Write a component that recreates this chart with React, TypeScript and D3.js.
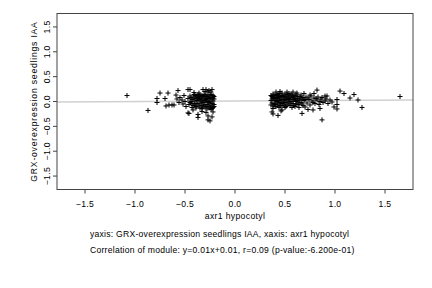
import * as d3 from "d3";

// axr1 hypocotyl (x) vs GRX-overexpression seedlings IAA (y)
const pointsLeft: [number, number][] = [
  [-1.08, 0.12], [-0.87, -0.18], [-0.78, 0.06], [-0.78, -0.02], [-0.75, 0.17],
  [-0.7, 0.06], [-0.67, 0.17], [-0.69, -0.09], [-0.66, -0.07], [-0.63, -0.07],
  [-0.61, -0.07], [-0.59, 0.13], [-0.57, 0.22], [-0.58, 0.05], [-0.56, -0.02],
  [-0.55, 0.08], [-0.53, 0.03], [-0.52, -0.05], [-0.51, 0.12], [-0.5, 0.0],
  [-0.49, -0.1], [-0.47, 0.24], [-0.45, 0.24], [-0.32, 0.24], [-0.29, 0.24],
  [-0.26, 0.22], [-0.23, 0.24], [-0.3, 0.2], [-0.27, 0.19], [-0.24, 0.19],
  [-0.41, 0.18], [-0.36, 0.17], [-0.46, -0.24], [-0.47, -0.23], [-0.37, -0.32],
  [-0.37, -0.26], [-0.27, -0.29], [-0.27, -0.37], [-0.25, -0.39], [-0.23, -0.31],
  [-0.22, -0.21], [-0.42, -0.17], [-0.33, -0.2], [-0.29, -0.22], [-0.24, -0.16],
  [-0.47, 0.06], [-0.46, -0.06], [-0.45, 0.11], [-0.44, 0.0], [-0.43, -0.12],
  [-0.42, 0.05], [-0.41, -0.04], [-0.4, 0.12], [-0.39, -0.1], [-0.38, 0.02],
  [-0.37, 0.08], [-0.36, -0.05], [-0.35, -0.13], [-0.35, 0.13], [-0.34, 0.01],
  [-0.33, -0.08], [-0.32, 0.07], [-0.31, -0.02], [-0.31, 0.14], [-0.3, -0.11],
  [-0.29, 0.04], [-0.28, -0.06], [-0.28, 0.1], [-0.27, 0.0], [-0.26, -0.13],
  [-0.26, 0.06], [-0.25, -0.03], [-0.25, 0.13], [-0.24, 0.03], [-0.24, -0.09],
  [-0.23, 0.08], [-0.23, -0.04], [-0.22, 0.12], [-0.22, 0.01], [-0.22, -0.12],
  [-0.21, -0.06], [-0.21, 0.05], [-0.34, 0.1], [-0.3, 0.11], [-0.39, 0.06],
  [-0.33, -0.14], [-0.28, -0.15], [-0.4, -0.07], [-0.44, 0.08], [-0.36, 0.04],
  [-0.45, -0.02], [-0.43, 0.04], [-0.42, -0.08], [-0.41, 0.09], [-0.4, 0.01],
  [-0.39, -0.13], [-0.38, 0.11], [-0.38, -0.04], [-0.37, 0.14], [-0.36, -0.09],
  [-0.35, 0.06], [-0.34, -0.03], [-0.33, 0.12], [-0.33, 0.03], [-0.32, -0.11],
  [-0.32, -0.01], [-0.31, 0.09], [-0.3, -0.06], [-0.3, 0.02], [-0.29, 0.13],
  [-0.29, -0.1], [-0.28, 0.06], [-0.27, -0.09], [-0.27, 0.11], [-0.26, -0.02],
  [-0.25, 0.08], [-0.25, -0.11], [-0.24, 0.14], [-0.23, -0.14], [-0.22, 0.07],
  [-0.21, 0.1], [-0.21, -0.1], [-0.43, -0.04], [-0.41, 0.14], [-0.36, 0.1],
];

const pointsRight: [number, number][] = [
  [0.82, 0.23], [0.79, 0.16], [0.75, 0.13], [0.69, 0.16], [0.9, 0.11],
  [0.92, 0.11], [1.05, 0.21], [1.09, 0.16], [1.19, 0.14], [1.15, 0.07],
  [1.23, 0.03], [1.27, -0.12], [0.87, -0.37], [0.67, -0.24], [0.78, -0.17],
  [0.85, -0.14], [0.73, -0.16], [0.99, -0.11], [1.02, -0.15], [1.02, -0.06],
  [1.02, 0.04], [0.38, -0.14], [0.37, -0.21], [0.38, -0.25], [0.43, -0.28],
  [0.46, -0.19], [0.5, -0.12], [0.47, -0.17], [1.65, 0.1],
  [0.41, 0.19], [0.45, 0.2], [0.52, 0.19], [0.58, 0.19], [0.62, 0.17],
  [0.36, 0.02], [0.36, -0.07], [0.37, 0.1], [0.38, 0.15], [0.39, -0.04],
  [0.39, 0.06], [0.4, -0.1], [0.41, 0.12], [0.42, 0.0], [0.43, -0.07],
  [0.43, 0.08], [0.44, 0.16], [0.45, -0.02], [0.46, 0.04], [0.46, -0.09],
  [0.47, 0.12], [0.48, 0.01], [0.49, -0.05], [0.49, 0.09], [0.5, 0.15],
  [0.51, -0.1], [0.52, 0.03], [0.53, -0.03], [0.53, 0.11], [0.54, 0.06],
  [0.55, -0.08], [0.56, 0.0], [0.56, 0.15], [0.57, 0.08], [0.58, -0.04],
  [0.59, 0.04], [0.6, -0.1], [0.6, 0.12], [0.61, 0.0], [0.62, 0.07],
  [0.63, -0.06], [0.64, 0.03], [0.65, 0.1], [0.66, -0.02], [0.67, 0.05],
  [0.68, -0.08], [0.69, 0.02], [0.71, 0.09], [0.72, -0.03], [0.74, 0.04],
  [0.75, -0.07], [0.77, 0.01], [0.79, 0.07], [0.8, -0.04], [0.82, 0.03],
  [0.84, -0.06], [0.86, 0.05], [0.88, -0.02], [0.9, 0.01], [0.93, -0.04],
  [0.95, 0.03], [0.97, -0.01], [0.7, -0.11], [0.76, 0.11], [0.83, 0.09],
  [0.64, -0.12], [0.57, -0.12], [0.44, -0.12], [0.4, 0.03], [0.51, 0.07],
  [0.36, 0.12], [0.37, -0.03], [0.37, 0.05], [0.38, -0.09], [0.38, 0.08],
  [0.39, 0.13], [0.4, -0.06], [0.4, 0.09], [0.41, 0.02], [0.41, -0.1],
  [0.42, 0.14], [0.42, 0.06], [0.43, -0.03], [0.44, 0.1], [0.44, 0.02],
  [0.45, -0.08], [0.45, 0.13], [0.46, 0.07], [0.47, -0.04], [0.47, 0.17],
  [0.48, 0.1], [0.48, -0.08], [0.49, 0.03], [0.5, -0.02], [0.5, 0.11],
  [0.51, 0.04], [0.52, -0.07], [0.52, 0.14], [0.53, 0.07], [0.54, -0.01],
  [0.54, 0.16], [0.55, 0.04], [0.55, 0.11], [0.56, -0.05], [0.57, 0.13],
  [0.58, 0.01], [0.58, 0.1], [0.59, -0.08], [0.6, 0.06], [0.61, 0.15],
  [0.61, -0.05], [0.62, 0.02], [0.63, 0.1], [0.64, -0.03], [0.65, 0.05],
  [0.66, 0.13], [0.67, -0.05], [0.68, 0.08], [0.7, 0.04], [0.73, 0.07],
  [0.78, -0.02], [0.81, 0.06], [0.85, 0.0], [0.87, 0.08], [0.91, 0.05],
];

const xTicks = [-1.5, -1.0, -0.5, 0.0, 0.5, 1.0, 1.5];
const yTicks = [-1.5, -1.0, -0.5, 0.0, 0.5, 1.0, 1.5];
const fit = { slope: 0.01, intercept: 0.01 };

const xLabel = "axr1 hypocotyl";
const yLabel = "GRX-overexpression seedlings IAA";
const caption1 = "yaxis: GRX-overexpression seedlings IAA, xaxis: axr1 hypocotyl";
const caption2 = "Correlation of module: y=0.01x+0.01, r=0.09 (p-value:-6.200e-01)";

export default function App() {
  const width = 432;
  const height = 288;
  const m = { left: 57, right: 413, top: 13.5, bottom: 189.5 };

  const x = d3.scaleLinear().domain([-1.78, 1.78]).range([m.left, m.right]);
  const y = d3.scaleLinear().domain([-1.77, 1.77]).range([m.bottom, m.top]);

  const font = "'Liberation Sans', Arial, Helvetica, sans-serif";
  const fs = 8.6;
  const ls = 0.35;
  const cx = (m.left + m.right) / 2;
  const cy = (m.top + m.bottom) / 2;

  const all = [...pointsLeft, ...pointsRight];
  const plus = (d: [number, number]) => {
    const px = x(d[0]);
    const py = y(d[1]);
    return `M${px - 2.5},${py}H${px + 2.5}M${px},${py - 2.5}V${py + 2.5}`;
  };

  const [d0, d1] = x.domain();
  const fitLine = d3
    .line<number>()
    .x((v) => x(v))
    .y((v) => y(fit.slope * v + fit.intercept));

  return (
    <svg
      width={width}
      height={height}
      style={{ position: "absolute", left: 0, top: 0, background: "#fff" }}
      fontFamily={font}
    >
      <path d={fitLine([d0, d1]) ?? ""} stroke="#d0d0d0" strokeWidth={1.5} fill="none" />
      <path d={all.map(plus).join("")} stroke="#000" strokeWidth={1} fill="none" />

      <rect
        x={m.left}
        y={m.top}
        width={m.right - m.left}
        height={m.bottom - m.top}
        fill="none"
        stroke="#444"
        strokeWidth={1}
      />

      {/* x axis */}
      <g>
        {xTicks.map((t) => (
          <g key={t}>
            <line x1={x(t)} x2={x(t)} y1={m.bottom} y2={m.bottom + 4} stroke="#444" />
            <text x={x(t)} y={206.5} textAnchor="middle" fontSize={fs} letterSpacing={ls} fill="#000">
              {d3.format(".1f")(t)}
            </text>
          </g>
        ))}
      </g>

      {/* y axis */}
      <g>
        {yTicks.map((t) => (
          <g key={t}>
            <line x1={m.left - 4} x2={m.left} y1={y(t)} y2={y(t)} stroke="#444" />
            <text
              transform={`translate(50,${y(t)}) rotate(-90)`}
              textAnchor="middle"
              fontSize={fs}
              letterSpacing={ls}
              fill="#000"
            >
              {d3.format(".1f")(t)}
            </text>
          </g>
        ))}
      </g>

      <text x={cx} y={218.7} textAnchor="middle" fontSize={fs} letterSpacing={ls} fill="#000">
        {xLabel}
      </text>
      <text
        transform={`translate(37,${cy}) rotate(-90)`}
        textAnchor="middle"
        fontSize={fs}
        letterSpacing={0.8}
        fill="#000"
      >
        {yLabel}
      </text>

      <text x={90} y={236.5} fontSize={fs} letterSpacing={0.25} fill="#000">
        {caption1}
      </text>
      <text x={90} y={252.7} fontSize={fs} letterSpacing={0.25} fill="#000">
        {caption2}
      </text>
    </svg>
  );
}
